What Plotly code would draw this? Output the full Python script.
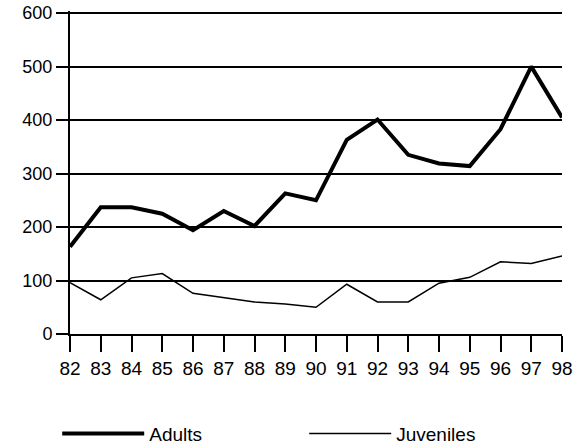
import plotly.graph_objects as go

years = ["82", "83", "84", "85", "86", "87", "88", "89", "90", "91", "92", "93", "94", "95", "96", "97", "98"]
adults = [163, 237, 237, 225, 194, 230, 202, 263, 250, 363, 401, 335, 319, 314, 383, 500, 405]
juveniles = [96, 64, 105, 113, 76, 68, 60, 56, 50, 93, 60, 60, 95, 106, 135, 132, 146]
y_ticks = [0, 100, 200, 300, 400, 500, 600]

font_family = "Liberation Sans, Arial, sans-serif"

fig = go.Figure()
fig.add_trace(go.Scatter(x=years, y=adults, mode="lines", name="Adults",
                         line=dict(color="black", width=4), legend="legend"))
fig.add_trace(go.Scatter(x=years, y=juveniles, mode="lines", name="Juveniles",
                         line=dict(color="black", width=1.5), legend="legend2"))

legend_common = dict(orientation="h", xanchor="left", y=-0.25, yanchor="top",
                     itemwidth=82, font=dict(size=19), bgcolor="rgba(0,0,0,0)")

fig.update_layout(
    width=587, height=444,
    margin=dict(l=70, r=25, t=11, b=110, autoexpand=False),
    paper_bgcolor="white", plot_bgcolor="white",
    font=dict(family=font_family, size=18, color="black"),
    xaxis=dict(type="category", range=[0, 16], showgrid=False, automargin=False,
               showline=True, linecolor="black", linewidth=2,
               ticks="outside", ticklen=16, tickwidth=2, tickcolor="black",
               tickfont=dict(size=19), zeroline=False, ticklabeloverflow="allow"),
    yaxis=dict(range=[0, 604], tickvals=y_ticks, showgrid=True, automargin=False,
               gridcolor="black", gridwidth=2,
               showline=True, linecolor="black", linewidth=2,
               ticks="outside", ticklen=12, tickwidth=2, tickcolor="black",
               tickfont=dict(size=18), zeroline=False, ticklabeloverflow="allow"),
    legend=dict(x=-0.026, **legend_common),
    legend2=dict(x=0.476, **legend_common),
    showlegend=True,
)

fig.write_html("out.html", config={"displayModeBar": False},
               post_script="document.body.style.margin='0';document.body.style.overflow='hidden';")
